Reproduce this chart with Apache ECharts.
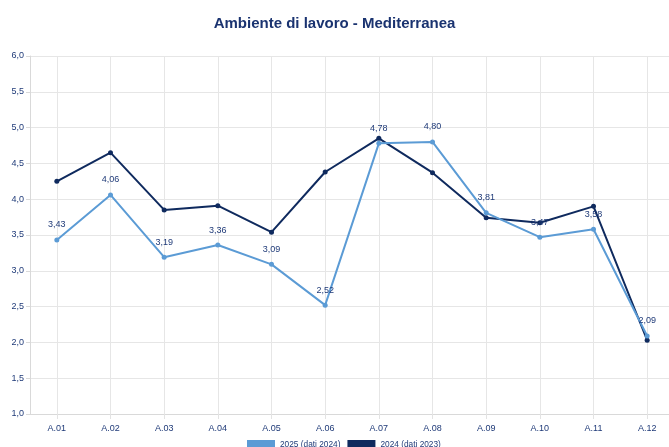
<!DOCTYPE html>
<html>
<head>
<meta charset="utf-8">
<script src="https://cdn.jsdelivr.net/npm/echarts@6/dist/echarts.min.js"></script>
<style>html,body{margin:0;padding:0;background:#fff;overflow:hidden;}#c{width:669px;height:447px;}</style>
</head>
<body>
<div id="c"></div>
<script>
const categories = ["A.01","A.02","A.03","A.04","A.05","A.06","A.07","A.08","A.09","A.10","A.11","A.12"];
const series2025 = [3.43, 4.06, 3.19, 3.36, 3.09, 2.52, 4.78, 4.80, 3.81, 3.47, 3.58, 2.09];
const series2024 = [4.25, 4.65, 3.85, 3.91, 3.54, 4.38, 4.85, 4.37, 3.74, 3.67, 3.90, 2.03];
const seriesNames = ["2025 (dati 2024)", "2024 (dati 2023)"];
const titleText = "Ambiente di lavoro - Mediterranea";

const navy = '#1f3a78';
const chart = echarts.init(document.getElementById('c'), null, {renderer: 'canvas'});
const fmt = v => Number(v).toFixed(1).replace('.', ',');
chart.setOption({
  animation: false,
  textStyle: {fontFamily: 'Liberation Sans'},
  title: {
    text: titleText, left: 'center', top: 11,
    textStyle: {fontSize: 15, fontWeight: 'bold', color: '#1a3370', fontFamily: 'Liberation Sans'}
  },
  legend: {
    data: seriesNames, top: 435, left: 242,
    itemWidth: 28, itemHeight: 10, itemGap: 7,
    icon: 'rect',
    textStyle: {fontSize: 8.3, color: navy}
  },
  grid: {left: 30, right: -5, top: 56, bottom: 33, containLabel: false, outerBoundsMode: 'none'},
  xAxis: {
    type: 'category', data: categories, boundaryGap: true,
    axisLine: {lineStyle: {color: '#d9d9d9'}},
    axisTick: {show: true, alignWithLabel: true, length: 5, lineStyle: {color: '#e3e3e3'}},
    axisLabel: {fontSize: 9, color: navy, margin: 10},
    splitLine: {show: true, alignWithLabel: true, lineStyle: {color: '#e6e6e6'}}
  },
  yAxis: {
    type: 'value', min: 1, max: 6, interval: 0.5,
    axisLine: {show: true, lineStyle: {color: '#d9d9d9'}},
    axisTick: {show: true, length: 4, lineStyle: {color: '#d9d9d9'}},
    axisLabel: {fontSize: 9, color: navy, margin: 6, formatter: fmt},
    splitLine: {show: true, lineStyle: {color: '#e6e6e6'}}
  },
  series: [
    {
      name: seriesNames[0], type: 'line', data: series2025,
      color: '#5b9bd5',
      symbol: 'circle', symbolSize: 5,
      lineStyle: {width: 2},
      label: {show: true, position: 'top', distance: 8, fontSize: 9, color: navy,
        formatter: p => p.value.toFixed(2).replace('.', ',')},
      z: 3
    },
    {
      name: seriesNames[1], type: 'line', data: series2024,
      color: '#0f2a5e',
      symbol: 'circle', symbolSize: 5,
      lineStyle: {width: 2},
      label: {show: false},
      z: 2
    }
  ]
});
</script>
</body>
</html>
